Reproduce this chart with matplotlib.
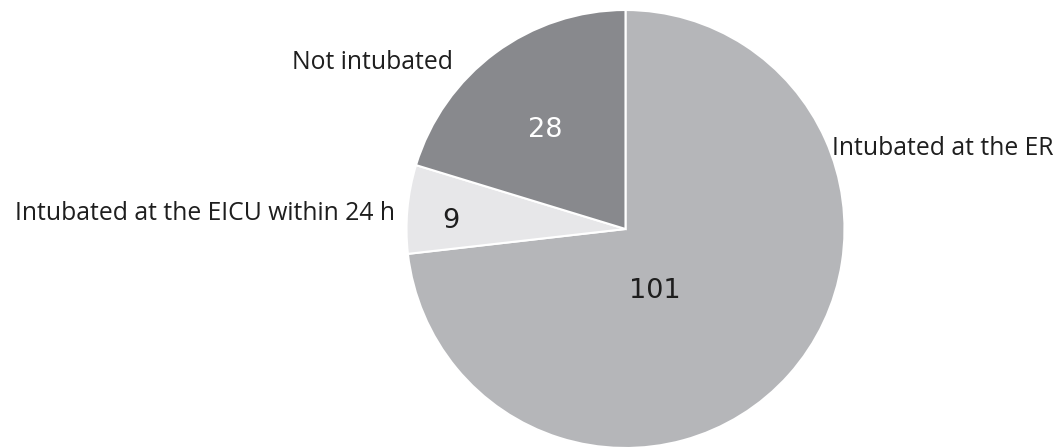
import matplotlib.pyplot as plt

# intubation status counts
categories = ["Intubated at the ER", "Intubated at the EICU within 24 h", "Not intubated"]
counts = [101, 9, 28]
colors = ["#b5b6b9", "#e7e7e9", "#88898d"]
count_colors = ["#1e1e1e", "#1e1e1e", "#ffffff"]

W, H = 1060, 448
fig = plt.figure(figsize=(W / 100, H / 100), dpi=100)
ax = fig.add_axes([0, 0, 1, 1])

cx, cy, r = 625.5, H - 229, 219
ax.pie(counts, colors=colors, startangle=90, counterclock=False,
       center=(cx, cy), radius=r, frame=True,
       wedgeprops=dict(edgecolor="white", linewidth=1.5))
ax.set_xlim(0, W)
ax.set_ylim(0, H)
ax.set_aspect("equal")
ax.axis("off")

# count labels inside the slices
count_pos = [(655, H - 291), (451, H - 221), (545, H - 130)]
for n, (x, y), c in zip(counts, count_pos, count_colors):
    ax.text(x, y, str(n), ha="center", va="center", fontsize=19.5,
            color=c, family="DejaVu Sans")

# category labels around the pie
label_pos = [(832, H - 148, "left"), (205, H - 213, "center"), (373, H - 62, "center")]
for name, (x, y, ha) in zip(categories, label_pos):
    ax.text(x, y, name, ha=ha, va="center", fontsize=17.8,
            color="#1e1e1e", family="Open Sans")

fig.savefig("out.png", dpi=100, facecolor="white")
